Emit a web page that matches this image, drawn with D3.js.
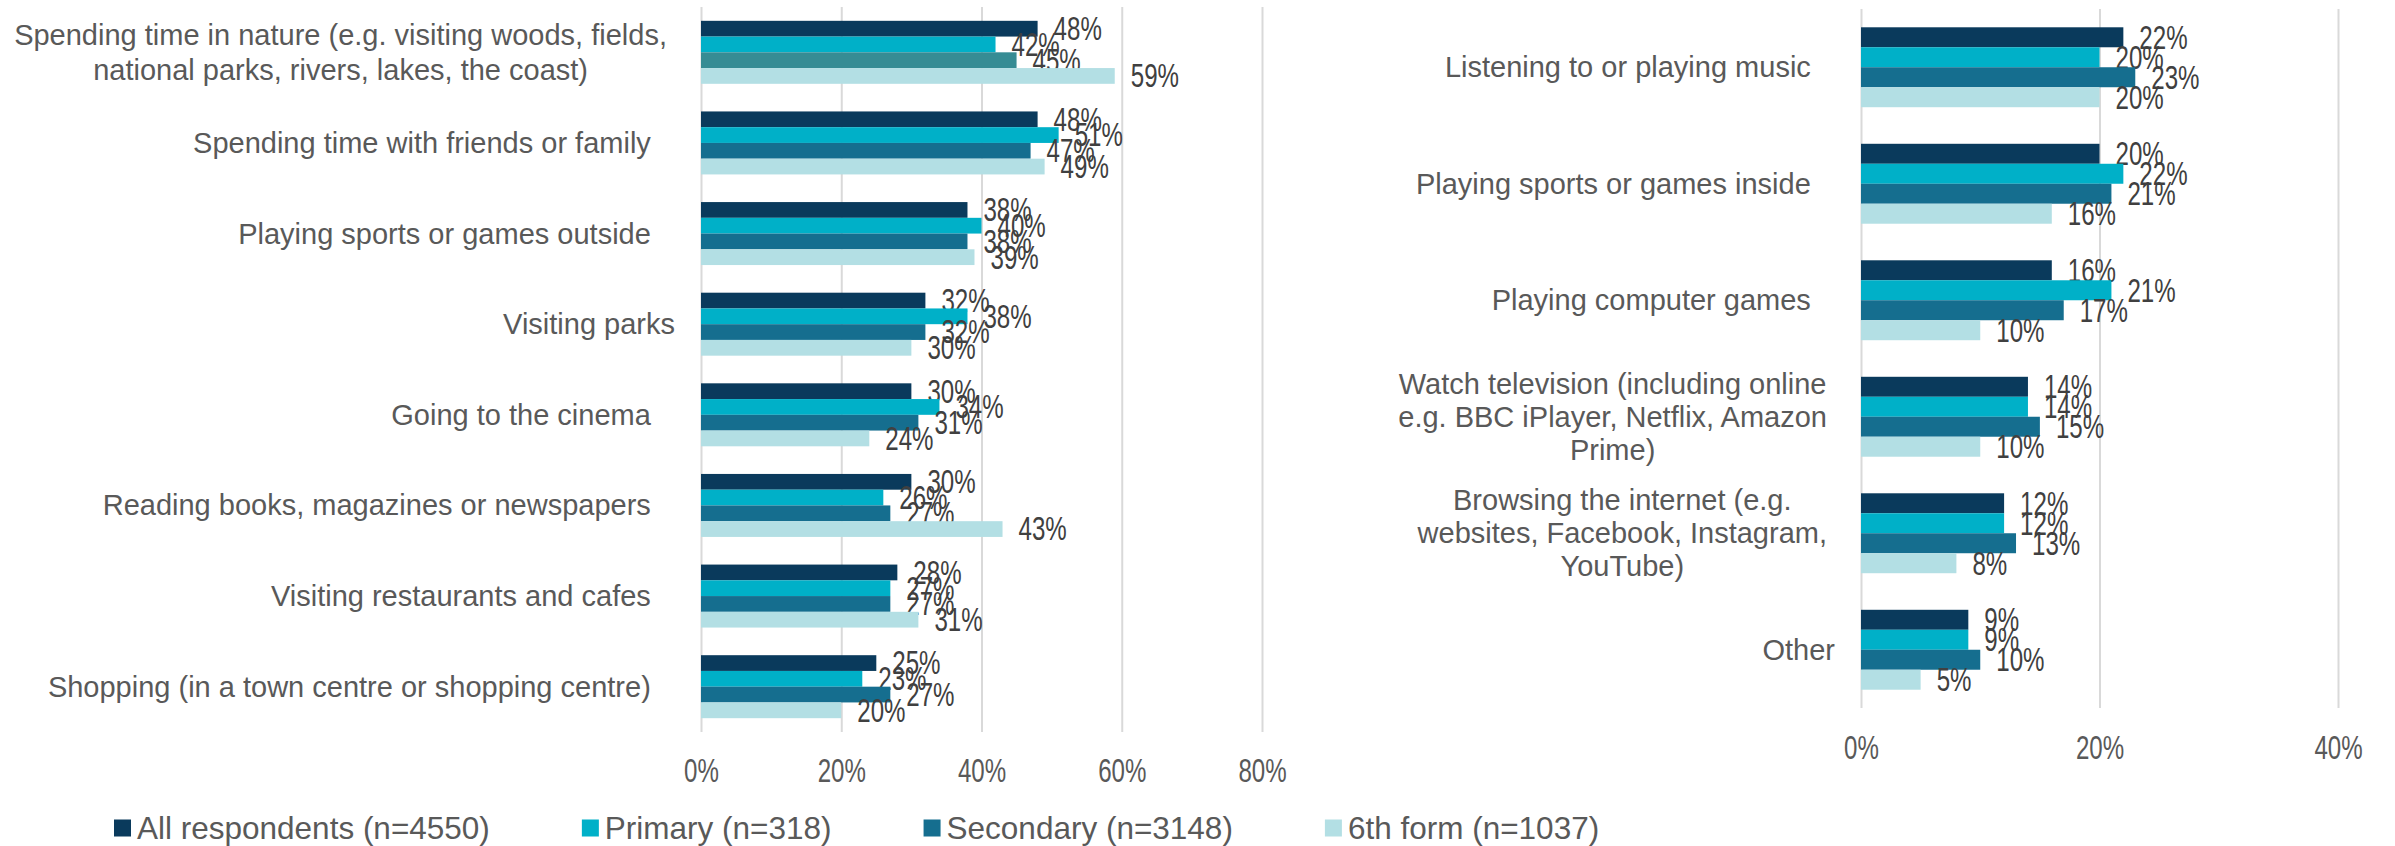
<!DOCTYPE html>
<meta charset="utf-8">
<style>
body { margin: 0; background: #fff; }
.cat { font-family: "Liberation Sans", Arial, sans-serif; font-size: 29px; fill: #595959; }
.val { font-family: "Liberation Sans", Arial, sans-serif; font-size: 33px; fill: #404040; }
.tick text { font-family: "Liberation Sans", Arial, sans-serif; font-size: 33px; fill: #595959; }
.grid line { stroke: #d9d9d9; stroke-width: 2; }
.legend text { font-family: "Liberation Sans", Arial, sans-serif; font-size: 31.5px; fill: #595959; }
</style>
<body>
<script src="https://cdn.jsdelivr.net/npm/d3@7"></script>
<script>
var series = ["All respondents (n=4550)", "Primary (n=318)", "Secondary (n=3148)", "6th form (n=1037)"];
var colors = ["#0a3a5c", "#00b0c8", "#156e8f", "#b3dfe4"];

// left panel
var leftCategories = [
	["Spending time in nature (e.g. visiting woods, fields,", "national parks, rivers, lakes, the coast)"],
	["Spending time with friends or family   "],
	["Playing sports or games outside   "],
	["Visiting parks"],
	["Going to the cinema   "],
	["Reading books, magazines or newspapers   "],
	["Visiting restaurants and cafes   "],
	["Shopping (in a town centre or shopping centre)   "]
];
var leftAll       = [48, 48, 38, 32, 30, 30, 28, 25];
var leftPrimary   = [42, 51, 40, 38, 34, 26, 27, 23];
var leftSecondary = [45, 47, 38, 32, 31, 27, 27, 27];
var leftSixth     = [59, 49, 39, 30, 24, 43, 31, 20];
var leftTicks = [0, 20, 40, 60, 80];

// right panel
var rightCategories = [
	["Listening to or playing music   "],
	["Playing sports or games inside   "],
	["Playing computer games   "],
	["Watch television (including online", "e.g. BBC iPlayer, Netflix, Amazon", "Prime)"],
	["Browsing the internet (e.g.", "websites, Facebook, Instagram,", "YouTube)"],
	["Other"]
];
var rightAll       = [22, 20, 16, 14, 12, 9];
var rightPrimary   = [20, 22, 21, 14, 12, 9];
var rightSecondary = [23, 21, 17, 15, 13, 10];
var rightSixth     = [20, 16, 10, 10, 8, 5];
var rightTicks = [0, 20, 40];

var width = 2395, height = 846;
var narrow = 0.73; // squeeze numbers, the original font has narrow digits

var svg = d3.select("body").append("svg")
	.attr("width", width)
	.attr("height", height);

function drawPanel(o) {
	var x = d3.scaleLinear().domain([0, d3.max(o.ticks)]).range([o.x0, o.x1]);
	var y = d3.scaleBand().domain(d3.range(o.cats.length))
		.range([o.y0, o.y1]).paddingInner(o.pad).paddingOuter(o.pad / 2);
	var ys = d3.scaleBand().domain(d3.range(series.length)).range([0, y.bandwidth()]);
	var g = svg.append("g");

	g.append("g").attr("class", "grid")
		.attr("transform", "translate(0," + o.y1 + ")")
		.call(d3.axisBottom(x).tickValues(o.ticks).tickSize(-(o.y1 - o.y0)).tickFormat(""))
		.call(function(s) { s.select(".domain").remove(); });

	g.append("g").attr("class", "xaxis")
		.attr("transform", "translate(0," + o.y1 + ")")
		.call(d3.axisBottom(x).tickValues(o.ticks).tickSize(0).tickFormat(function(d) { return d + "%"; }))
		.call(function(s) { s.select(".domain").remove(); })
		.selectAll("text")
		.attr("y", 0)
		.attr("dy", "0.35em")
		.attr("transform", "translate(0," + (o.tickY - o.y1) + ") scale(" + narrow + ",1)");

	o.values.forEach(function(vals, i) {
		var bars = g.append("g");
		bars.selectAll("rect").data(vals).enter().append("rect")
			.attr("x", x(0))
			.attr("y", function(d, j) { return y(j) + ys(i); })
			.attr("width", function(d) { return x(d) - x(0); })
			.attr("height", ys.bandwidth())
			.attr("fill", function(d, j) {
				if (o.override && o.override.series === i && o.override.index === j) return o.override.color;
				return colors[i];
			});
		bars.selectAll("text").data(vals).enter().append("text")
			.attr("class", "val")
			.attr("transform", function(d, j) {
				return "translate(" + (x(d) + 16) + "," + (y(j) + ys(i) + ys.bandwidth() / 2) + ") scale(" + narrow + ",1)";
			})
			.attr("dominant-baseline", "central")
			.text(function(d) { return d + "%"; });
	});

	o.cats.forEach(function(lines, j) {
		var cy = y(j) + y.bandwidth() / 2;
		var t = g.append("text").attr("class", "cat")
			.attr("xml:space", "preserve")
			.style("white-space", "pre");
		if (lines.length === 1) {
			t.attr("x", o.x0 - 26).attr("y", cy)
				.attr("text-anchor", "end")
				.attr("dominant-baseline", "central")
				.text(lines[0]);
		} else {
			t.attr("text-anchor", "middle");
			var spans = t.selectAll("tspan").data(lines).enter().append("tspan")
				.attr("y", function(d, k) { return cy + (k - (lines.length - 1) / 2) * o.lineH; })
				.attr("dominant-baseline", "central")
				.text(function(d) { return d; });
			var maxW = 0;
			spans.each(function() { maxW = Math.max(maxW, this.getComputedTextLength()); });
			spans.attr("x", o.x0 - 34 - maxW / 2);
		}
	});
}

drawPanel({
	cats: leftCategories,
	values: [leftAll, leftPrimary, leftSecondary, leftSixth],
	ticks: leftTicks,
	x0: 701, x1: 1262, y0: 7, y1: 732, pad: 0.305,
	tickY: 770, lineH: 35,
	override: {series: 2, index: 0, color: "#368c94"}
});

drawPanel({
	cats: rightCategories,
	values: [rightAll, rightPrimary, rightSecondary, rightSixth],
	ticks: rightTicks,
	x0: 1861, x1: 2338, y0: 9, y1: 708, pad: 0.314,
	tickY: 747, lineH: 33
});

// legend
var legend = svg.append("g").attr("class", "legend");
var lx = 114, ly = 828;
series.forEach(function(name, i) {
	legend.append("rect")
		.attr("x", lx).attr("y", ly - 8.5)
		.attr("width", 17).attr("height", 17)
		.attr("fill", colors[i]);
	var t = legend.append("text")
		.attr("x", lx + 23).attr("y", ly)
		.attr("dominant-baseline", "central")
		.text(name);
	lx += 23 + t.node().getComputedTextLength() + 92;
});
</script>
